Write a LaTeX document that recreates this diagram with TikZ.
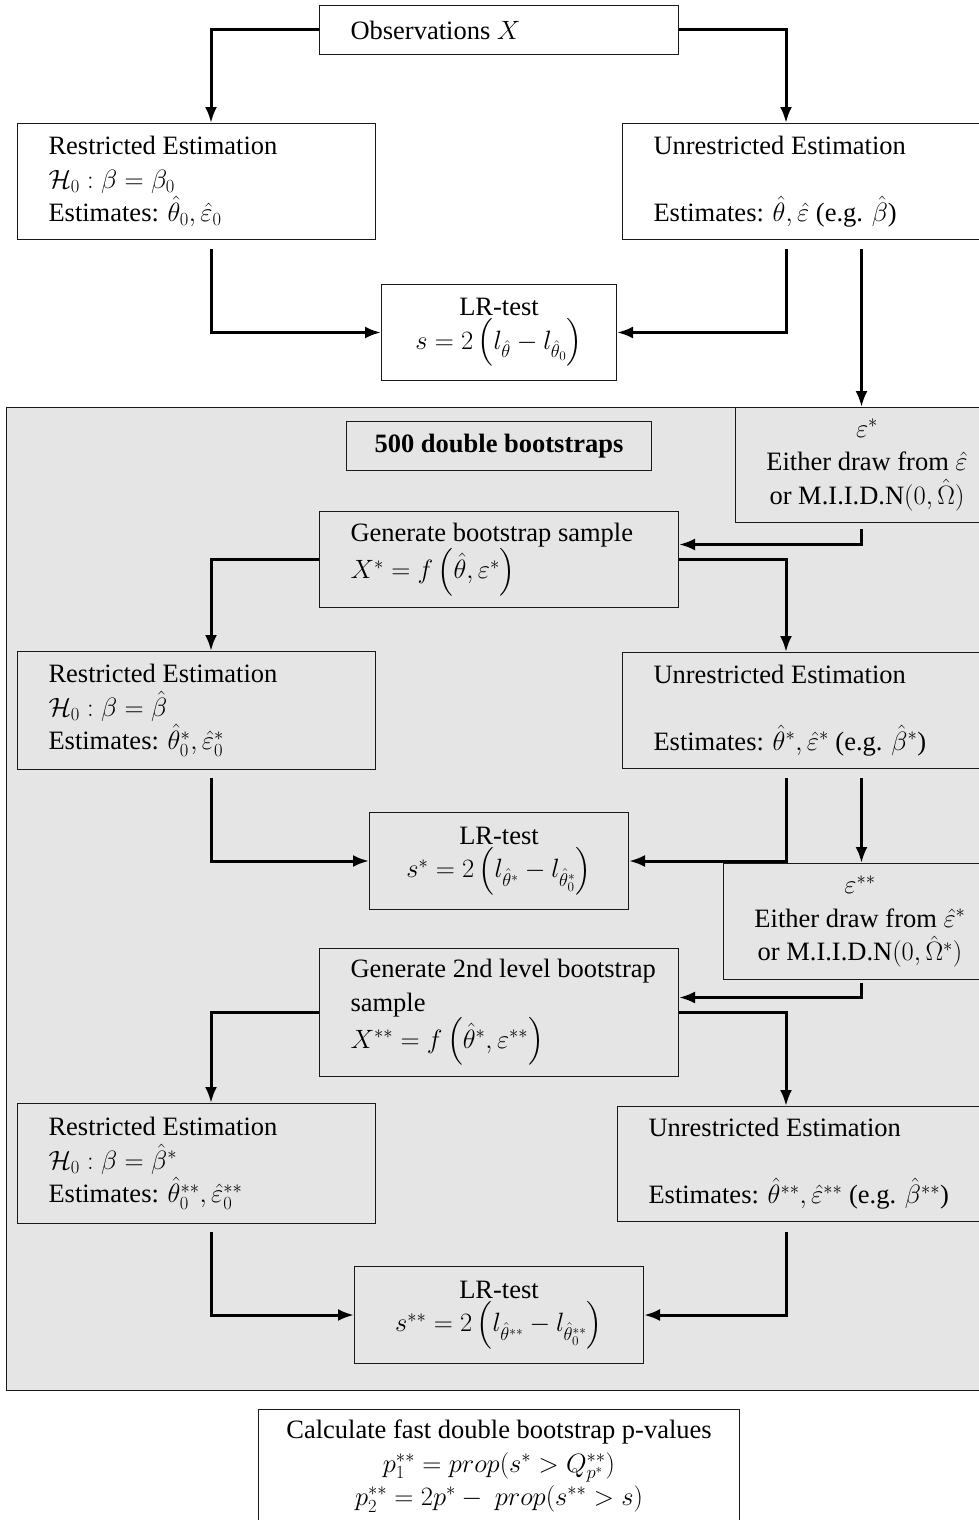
\documentclass[tikz,border=0pt]{standalone}
\usepackage{fix-cm}
\usepackage[no-math]{fontspec}
\setmainfont{Liberation Serif}
\usepackage{tikz}
\usetikzlibrary{arrows.meta,calc}
\usepackage{xcolor}
\usepackage{amssymb}
\definecolor{loopgrey}{HTML}{E5E5E5}

\begin{document}
\begin{tikzpicture}[x=1pt,y=-1pt,
	blk/.style={draw=black!90, line width=1pt, anchor=north west, inner xsep=31pt, inner ysep=0pt,
		align=flush left, font=\fontsize{26.5}{33.5}\selectfont},
	cblk/.style={blk, inner xsep=8pt, align=flush center},
	arr/.style={line width=3pt, -{Latex[length=16pt,width=12pt]}}]
	\path[use as bounding box, fill=white] (0,0) rectangle (979,1520);
	\coordinate (lc) at (211,0);
	\coordinate (rc) at (786,0);
	\coordinate (ec) at (861.5,0);
	\node[blk, text width=297pt, minimum height=49pt] (obs) at (319,5) {Observations $X$};
	\node[blk, text width=296pt, minimum height=116pt] (re0) at (17,123)
		{Restricted Estimation\\ $\mathcal{H}_0:\beta=\beta_0$\\ Estimates: $\hat\theta_0,\hat\varepsilon_0$};
	\node[blk, text width=330pt, minimum height=116pt] (un0) at (622,123)
		{Unrestricted Estimation\\ \mbox{}\\ Estimates: $\hat\theta,\hat\varepsilon$ (e.g. $\hat\beta$)};
	\node[cblk, text width=219pt, minimum height=96pt] (lr0) at (381,284)
		{LR-test\\ $s=2\left(l_{\hat\theta}-l_{\hat\theta_0}\right)$};
	\node[draw=black!90, line width=1pt, fill=loopgrey, anchor=north west, inner sep=0pt,
		minimum width=984pt, minimum height=983pt] (loop) at (6,407) {};
	\node[cblk, text width=289pt, minimum height=49pt, font=\fontsize{26.5}{33.5}\selectfont\bfseries] (nb) at (346,421)
		{500 double bootstraps};
	\node[cblk, text width=247pt, minimum height=115pt] (ep1) at (735,407)
		{$\varepsilon^*$\\ Either draw from $\hat\varepsilon$\\ or M.I.I.D.N$(0,\hat\Omega)$};
	\node[blk, text width=297pt, minimum height=96pt] (gen1) at (319,511)
		{Generate bootstrap sample\\ $X^*=f\left(\hat\theta,\varepsilon^*\right)$};
	\node[blk, text width=296pt, minimum height=118pt] (re1) at (17,651)
		{Restricted Estimation\\ $\mathcal{H}_0:\beta=\hat\beta$\\ Estimates: $\hat\theta_0^*,\hat\varepsilon_0^*$};
	\node[blk, text width=330pt, minimum height=116pt] (un1) at (622,652)
		{Unrestricted Estimation\\ \mbox{}\\ Estimates: $\hat\theta^*,\hat\varepsilon^*$ (e.g. $\hat\beta^*$)};
	\node[cblk, text width=243pt, minimum height=97pt] (lr1) at (369,812)
		{LR-test\\ $s^*=2\left(l_{\hat\theta^*}-l_{\hat\theta_0^*}\right)$};
	\node[cblk, text width=257pt, minimum height=116pt] (ep2) at (723,863)
		{$\varepsilon^{**}$\\ Either draw from $\hat\varepsilon^*$\\ or M.I.I.D.N$(0,\hat\Omega^*)$};
	\node[blk, text width=297pt, minimum height=128pt] (gen2) at (319,948)
		{\mbox{Generate 2nd level bootstrap}\\ sample\\ $X^{**}=f\left(\hat\theta^*,\varepsilon^{**}\right)$};
	\node[blk, text width=296pt, minimum height=120pt] (re2) at (17,1103)
		{Restricted Estimation\\ $\mathcal{H}_0:\beta=\hat\beta^*$\\ Estimates: $\hat\theta_0^{**},\hat\varepsilon_0^{**}$};
	\node[blk, text width=340pt, minimum height=115pt] (un2) at (617,1106)
		{Unrestricted Estimation\\ \mbox{}\\ Estimates: $\hat\theta^{**},\hat\varepsilon^{**}$ (e.g. $\hat\beta^{**}$)};
	\node[cblk, text width=273pt, minimum height=97pt] (lr2) at (354,1266)
		{LR-test\\ $s^{**}=2\left(l_{\hat\theta^{**}}-l_{\hat\theta_0^{**}}\right)$};
	\node[cblk, text width=465pt, minimum height=113pt] (calc) at (258,1409)
		{Calculate fast double bootstrap p-values\\ $p_1^{**}=prop(s^*>Q_{p^*}^{**})$\\ $p_2^{**}=2p^*-\ prop(s^{**}>s)$};
	\draw[arr] (obs.west) -| (re0.north -| lc);
	\draw[arr] (obs.east) -| (un0.north -| rc);
	\draw[arr] ($(re0.south -| lc)+(0,9)$) |- (lr0.west);
	\draw[arr] ($(un0.south -| rc)+(0,9)$) |- (lr0.east);
	\draw[arr] ($(un0.south -| ec)+(0,9)$) -- (ep1.north -| ec);
	\draw[arr] ($(ep1.south -| ec)+(0,6)$) |- ($(gen1.east)+(0,-15)$);
	\draw[arr] (gen1.west) -| (re1.north -| lc);
	\draw[arr] (gen1.east) -| (un1.north -| rc);
	\draw[arr] ($(re1.south -| lc)+(0,8)$) |- (lr1.west);
	\draw[arr] ($(un1.south -| rc)+(0,9)$) |- (lr1.east);
	\draw[arr] ($(un1.south -| ec)+(0,9)$) -- (ep2.north -| ec);
	\draw[arr] ($(ep2.south -| ec)+(0,3)$) |- ($(gen2.east)+(0,-15)$);
	\draw[arr] (gen2.west) -| (re2.north -| lc);
	\draw[arr] (gen2.east) -| (un2.north -| rc);
	\draw[arr] ($(re2.south -| lc)+(0,8)$) |- (lr2.west);
	\draw[arr] ($(un2.south -| rc)+(0,10)$) |- (lr2.east);
\end{tikzpicture}
\end{document}
